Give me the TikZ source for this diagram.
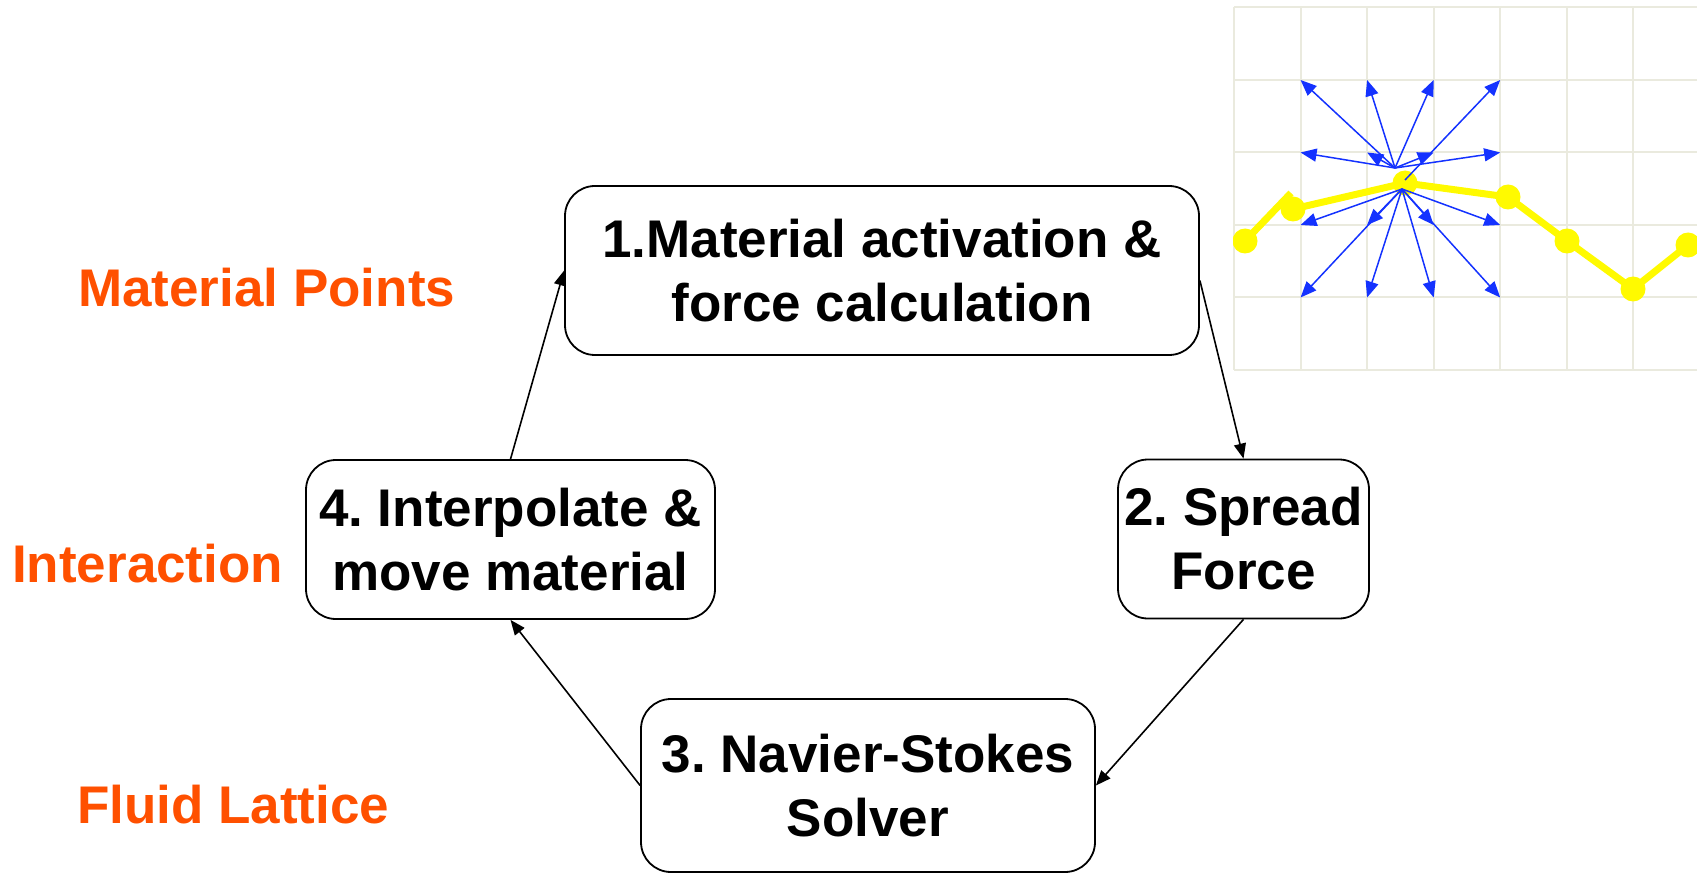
\documentclass[tikz,border=0pt]{standalone}
\usepackage{fontspec}
\setmainfont{Liberation Sans}
\usetikzlibrary{arrows.meta}
\definecolor{lbl}{RGB}{255,80,0}
\definecolor{gridc}{RGB}{234,234,222}
\definecolor{arrblue}{RGB}{20,50,255}
\definecolor{ylw}{RGB}{255,250,0}
\frenchspacing
\begin{document}
\frenchspacing
\begin{tikzpicture}[x=1pt,y=-1pt,
  box/.style={draw, line width=1.8pt, rounded corners=30pt, align=center, inner sep=2pt,
    font=\bfseries\fontsize{53}{64}\selectfont},
  flow/.style={-{Triangle[length=15pt,width=12pt]}, line width=1.6pt},
  lab/.style={anchor=base west, text=lbl, inner sep=0pt, font=\bfseries\fontsize{53}{64}\selectfont},
  vec/.style={-{Triangle[length=16pt,width=13pt]}, line width=1.5pt, draw=arrblue, fill=arrblue},
  gline/.style={draw=gridc, line width=2pt},
  yl/.style={draw=ylw, line width=7pt},
  ydot/.style={fill=ylw}]
\useasboundingbox (0,0) rectangle (1697,874);

% ---- lattice picture ----
\begin{scope}
\clip (1233,0) rectangle (1697,380);
\foreach \i in {0,...,7} \draw[gline] ({1234+66.55*\i},7.5) -- ({1234+66.55*\i},370.5);
\foreach \j in {0,...,5} \draw[gline] (1234,{7.5+72.5*\j}) -- (1700,{7.5+72.5*\j});
\foreach \i in {1,...,4} \foreach \j in {1,...,4}
  \coordinate (g\i\j) at ({1234+66.55*\i},{7.5+72.5*\j});
\coordinate (p0) at (1245,241);
\coordinate (pa) at (1291,193);
\coordinate (pb) at (1293,209);
\coordinate (pc) at (1405,183);
\coordinate (pd) at (1508,197);
\coordinate (pe) at (1567,241);
\coordinate (pf) at (1633,289);
\coordinate (pg) at (1688,245);
\draw[yl] (p0) -- (pa);
\draw[yl] (pb) -- (pc) -- (pd) -- (pe) -- (pf) -- (pg);
\foreach \p in {p0,pb,pc,pd,pe,pf,pg} \fill[ydot] (\p) circle (12.5);
\coordinate (o1) at (1395,168);
\coordinate (o1b) at (1405,180);
\coordinate (o2) at (1402,189);
\foreach \t in {g11,g21,g31,g12,g22,g32,g42} \draw[vec] (o1) -- (\t);
\draw[vec] (o1b) -- (g41);
\foreach \t in {g13,g23,g33,g43,g14,g24,g34,g44} \draw[vec] (o2) -- (\t);
\end{scope}

% ---- boxes ----
\node[box, minimum width=634pt, minimum height=169pt] (b1) at (882,270.5)
  {1.Material activation \&\\force calculation};
\node[box, minimum width=251pt, minimum height=159pt] (b2) at (1243.5,539)
  {2. Spread\\Force};
\node[box, minimum width=454pt, minimum height=173pt] (b3) at (868,785.5)
  {3. Navier-Stokes\\Solver};
\node[box, minimum width=409pt, minimum height=159pt] (b4) at (510.5,539.5)
  {4. Interpolate \&\\move material};

% ---- connectors ----
\draw[flow] (b4.north) -- (b1.west);
\draw[flow] ([yshift=-10pt]b1.east) -- (b2.north);
\draw[flow] (b2.south) -- (b3.east);
\draw[flow] (b3.west) -- (b4.south);

% ---- labels ----
\node[lab] (mp) at (78,307) {Material Points};
\node[lab] (ia) at (12,582) {Interaction};
\node[lab] (fl) at (77,823) {Fluid Lattice};
\end{tikzpicture}
\end{document}
